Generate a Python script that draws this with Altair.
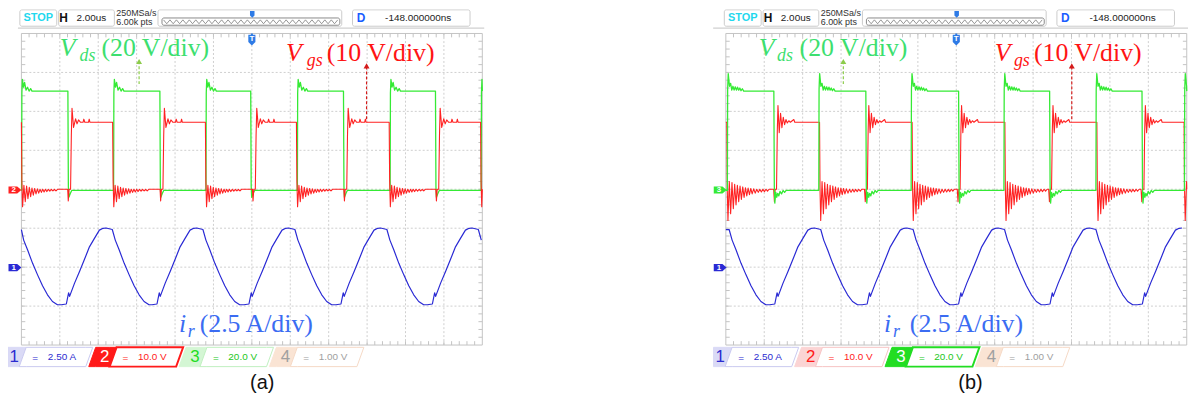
import altair as alt
import pandas as pd

# ---------------- scope settings ----------------
US_PER_DIV = 2.0                 # H 2.00us
VDS_PER_DIV = 20.0               # Vds (20 V/div)
VGS_PER_DIV = 10.0               # Vgs (10 V/div)
IR_PER_DIV = 2.5                 # ir (2.5 A/div)
VDS_GND, VGS_GND, IR_GND = -0.03, 0.0, -2.01   # ground markers (div)
VDS_HIGH, VGS_HIGH = 51.0, 17.2                # V

# ---------------- panel (a) switching instants (us) ----------------
a_vds_rise = [0.01, 4.80, 9.61, 14.37, 19.20, 23.94]
a_vds_fall = [2.42, 7.21, 11.94, 16.77, 21.56]
a_vgs_fall = [0.00, 4.75, 9.58, 14.32, 19.15, 23.91]
a_vgs_rise = [2.56, 7.37, 12.18, 16.94, 21.73]
a_ir_min = [-2.69, 2.08, 6.80, 11.59, 16.38, 21.14]
a_ir_start = 2.44
# ---------------- panel (b) switching instants (us) ----------------
b_vds_rise = [0.08, 4.84, 9.65, 14.48, 19.27, 23.88]
b_vds_fall = [2.50, 7.29, 12.12, 16.86, 21.67]
b_vgs_fall = [0.05, 4.88, 9.70, 14.53, 19.32, 23.86]
b_vgs_rise = [2.64, 7.37, 12.20, 16.96, 21.77]
b_ir_min = [-2.48, 2.29, 7.10, 11.86, 16.62, 21.43]
b_ir_start = 2.44

# ---------------- edge shapes (ns after edge, value) ----------------
a_vds_rise_tpl = [(0, 0), (15, 50), (40, 57), (100, 53), (155, 55.5), (230, 51.5),
                  (310, 53), (390, 51), (470, 52.3), (540, 51)]
a_vds_fall_tpl = [(0, 51), (25, 2), (50, -3.5), (130, -1.5), (200, 0)]
a_vgs_rise_tpl = [(-150, 0), (-120, -3.0), (-80, 0), (0, 0), (40, 14), (75, 20.8),
                  (155, 15.9), (260, 18.1), (335, 16.8), (415, 17.8), (520, 17.2),
                  (650, 17.2), (690, 18.0), (740, 17.2), (930, 17.2), (970, 18.0), (1010, 17.2)]
a_vgs_fall_tpl = [(0, 17.2), (25, 2), (60, -4.5), (130, 1.0), (200, -3.2), (270, 0.8),
                  (340, -2.4), (410, 0.5), (480, -1.9), (550, 0.3), (620, -1.5),
                  (690, 0.2), (760, -1.2), (830, 0.1), (900, -1.0), (970, 0),
                  (1040, -0.8), (1110, 0), (1180, -0.7), (1250, 0), (1320, -0.6),
                  (1400, 0), (1480, -0.5), (1560, 0), (1640, -0.4), (1720, 0),
                  (1800, -0.4), (1880, 0)]
b_vds_rise_tpl = [(0, 0), (15, 52), (45, 60), (110, 53.5), (170, 55), (230, 51.5),
                  (290, 53.5), (350, 51.5), (410, 53.2), (470, 51.5), (530, 53),
                  (590, 51.5), (650, 52.6), (710, 51.2), (780, 52.2), (850, 51)]
b_vds_fall_tpl = [(0, 51), (25, 2), (50, -6.5), (100, -1), (150, -3.5), (200, -1.5),
                  (260, -2.8), (320, -0.5), (400, -1.8), (480, 0), (560, -1), (640, 0)]
b_vgs_rise_tpl = [(-150, 0), (-110, -3.2), (-70, 0), (0, 0), (40, 15), (75, 21.5),
                  (140, 14.5), (210, 19.5), (280, 15.8), (350, 18.5), (420, 16.6),
                  (490, 17.9), (560, 17.0), (640, 17.6), (720, 17.2), (900, 17.9), (950, 17.2)]
b_vgs_fall_tpl = [(0, 17.2), (25, 0), (60, -8), (130, 2), (200, -6.3), (270, 1.7),
                  (340, -5), (410, 1.3), (480, -4), (550, 1), (620, -3.2), (690, 0.8),
                  (760, -2.6), (830, 0.6), (900, -2.1), (970, 0.4), (1040, -1.7),
                  (1110, 0.3), (1180, -1.4), (1250, 0.2), (1320, -1.2), (1400, 0.1),
                  (1480, -1), (1560, 0), (1640, -0.8), (1720, 0), (1800, -0.7),
                  (1880, 0), (1960, -0.6), (2040, 0), (2120, -0.5), (2200, 0)]

# resonant current over one period, starting at its minimum (ns, A)
ir_shape_ns = [0, 259, 377, 429, 688, 946, 1205, 1463, 1722, 1980, 2171, 2327,
               2652, 2807, 3014, 3273, 3531, 3790, 4048, 4307, 4565]
ir_shape_A = [-2.39, -2.34, -1.62, -1.85, -1.00, -0.26, 0.53, 1.33, 1.87, 2.40, 2.52,
              2.54, 2.44, 1.76, 1.12, 0.27, -0.47, -1.17, -1.75, -2.18, -2.39]

channels = ["1", "2", "3", "4"]
channel_values = ["2.50 A", "10.0 V", "20.0 V", "1.00 V"]

# ---------------- layout ----------------
W, H = 1188, 395
PXX, PXY = 38.67, 39.21
GA_LEFT, GB_LEFT, GRID_MID_Y = 13.5, 722.7, 181.15
X_DOMAIN = [-GA_LEFT / PXX, (W - GA_LEFT) / PXX]
Y_DOMAIN = [(GRID_MID_Y - H) / PXY, GRID_MID_Y / PXY]
B_OFF = (GB_LEFT - GA_LEFT) / PXX

GREEN, RED, BLUE = "#35ea35", "#ff2222", "#2a2ad4"
GRID_C, BORDER_C = "#cfcfcf", "#c4c4c4"


def build_trace(rises, falls, rise_tpl, fall_tpl, start, high, low):
    events = sorted([(t, 1) for t in rises] + [(t, 0) for t in falls])
    pts = [(0.0, start)]
    level = start
    for t, kind in events:
        for dt, v in (rise_tpl if kind else fall_tpl):
            pts.append((t + dt / 1000.0, v))
        level = high if kind else low
    pts.append((24.0, level))
    out, last = [], -1.0
    for t, v in pts:
        if 0 <= t <= 24 and t >= last:
            out.append((t, v))
            last = t
    return out


def build_ir(minima, start):
    pts = [(0.0, start)]
    for tm in minima:
        for dt, v in zip(ir_shape_ns, ir_shape_A):
            pts.append((tm + dt / 1000.0, v))
    return sorted([p for p in pts if 0 <= p[0] <= 24])


lines_lo, lines_hi, lines_ir, lines_misc = [], [], [], []


def add_line(store, sid, pts, scale, gnd, ox, color, w):
    for i, (t, v) in enumerate(pts):
        store.append(dict(sid=sid, i=i, x=ox + t / US_PER_DIV, y=v / scale + gnd,
                          color=color, w=w))


# panel (a): active channel 2 (red on top)
add_line(lines_lo, "a_vds", build_trace(a_vds_rise, a_vds_fall, a_vds_rise_tpl, a_vds_fall_tpl,
                                        0, VDS_HIGH, 0), VDS_PER_DIV, VDS_GND, 0, GREEN, 1.3)
add_line(lines_hi, "a_vgs", build_trace(a_vgs_rise, a_vgs_fall, a_vgs_rise_tpl, a_vgs_fall_tpl,
                                        VGS_HIGH, VGS_HIGH, 0), VGS_PER_DIV, VGS_GND, 0, RED, 1.1)
add_line(lines_ir, "a_ir", build_ir(a_ir_min, a_ir_start), IR_PER_DIV, IR_GND, 0, BLUE, 1.2)
# panel (b): active channel 3 (green on top)
add_line(lines_lo, "b_vgs", build_trace(b_vgs_rise, b_vgs_fall, b_vgs_rise_tpl, b_vgs_fall_tpl,
                                        VGS_HIGH, VGS_HIGH, 0), VGS_PER_DIV, VGS_GND, B_OFF, RED, 1.1)
add_line(lines_hi, "b_vds", build_trace(b_vds_rise, b_vds_fall, b_vds_rise_tpl, b_vds_fall_tpl,
                                        0, VDS_HIGH, 0), VDS_PER_DIV, VDS_GND, B_OFF, GREEN, 1.3)
add_line(lines_ir, "b_ir", build_ir(b_ir_min, b_ir_start), IR_PER_DIV, IR_GND, B_OFF, BLUE, 1.2)

# ---------------- decorations ----------------
rules, rects, areas, texts, pts_tag, pts_pent, pts_tri = [], [], [], [], [], [], []


def rule(x, x2, y, y2, color, w=1.0, dash="solid"):
    rules.append(dict(x=x, x2=x2, y=y, y2=y2, color=color, w=w, dash=dash))


def text(x, y, s, size, color, style):
    texts.append(dict(x=x, y=y, text=s, size=size, color=color, style=style))


CH_COL = ["#2b2bd0", "#ff1a1a", "#22dd22", "#a0a0a0"]
CH_TXT = ["#2b2bd0", "#ff1a1a", "#22c822", "#a0a0a0"]
CH_TINT = ["#dadaf6", "#fbd4d4", "#d4f6d4", "#fae4d4"]
CH_EDGE = ["#cacaf0", "#f6c4c4", "#bff0bf", "#f5d9c6"]

panels = [
    dict(ox=0.0, V1=0.996, s1=1.513, t1=2.082, V2=6.89, s2=7.43, t2=7.95,
         i=4.10, r=4.33, t3=4.64, ga=3.064, ra=8.986, cap=6.27, cap_text="(a)",
         active=1, bl0=1.753, tags=[("2", -0.02, RED), ("1", -2.011, BLUE)], tagx=-0.168,
         sep0=-0.09),
    dict(ox=B_OFF, V1=0.86, s1=1.334, t1=1.921, V2=7.00, s2=7.50, t2=8.02,
         i=4.118, r=4.35, t3=4.79, ga=3.059, ra=9.007, cap=6.37, cap_text="(b)",
         active=2, bl0=1.792, tags=[("3", -0.02, GREEN), ("1", -2.011, BLUE)], tagx=-0.147,
         sep0=-0.33),
]

for p in panels:
    ox = p["ox"]
    # graticule
    for k in range(1, 12):
        rule(ox + k, ox + k, -4, 4, GRID_C, 1, "dot")
    for k in range(-3, 4):
        rule(ox, ox + 12, k, k, GRID_C, 1, "dot")
    for (x0, x1, y0, y1) in [(0, 12, 4, 4), (0, 12, -4, -4), (0, 0, -4, 4), (12, 12, -4, 4)]:
        rule(ox + x0, ox + x1, y0, y1, BORDER_C, 1)
    tx, ty = 3.9 / PXX, 3.9 / PXY
    for m in range(1, 60):
        xv = ox + m * 0.2
        rule(xv, xv, 4 - ty, 4, BORDER_C, 1)
        rule(xv, xv, -4, -4 + ty, BORDER_C, 1)
    for m in range(1, 40):
        yv = -4 + m * 0.2
        rule(ox, ox + tx, yv, yv, BORDER_C, 1)
        rule(ox + 12 - tx, ox + 12, yv, yv, BORDER_C, 1)
    # top status bar
    rule(ox + p["sep0"], ox + 12.05, 4.135, 4.135, "#d0d0d0", 1.2)
    for (x0, x1) in [(-0.04, 0.92), (0.97, 2.42), (3.556, 8.34), (8.62, 11.68)]:
        rects.append(dict(x=ox + x0, x2=ox + x1, y=4.186, y2=4.607, fill="#ffffff", stroke="#cccccc"))
    rects.append(dict(x=ox + 3.66, x2=ox + 8.29, y=4.212, y2=4.398, fill="#ffffff", stroke="#8a8a8a"))
    zz, k, xz = [], 0, 3.70
    while xz <= 8.25:
        zz.append((xz, 4.35 if k % 2 == 0 else 4.25))
        xz += 0.084
        k += 1
    for i, (xv, yv) in enumerate(zz):
        lines_misc.append(dict(sid="zz" + p["cap_text"], i=i, x=ox + xv, y=yv, color="#7a7a7a", w=0.8))
    text(ox + 0.44, 4.40, "STOP", 11, "#1fd8ee", "sans_b_c")
    text(ox + 1.10, 4.40, "H", 12, "#111111", "sans_b_c")
    text(ox + 1.82, 4.40, "2.00us", 10, "#222222", "sans_c")
    text(ox + 2.47, 4.53, "250MSa/s", 9, "#333333", "sans_l")
    text(ox + 2.47, 4.30, "6.00k pts", 9, "#333333", "sans_l")
    text(ox + 8.84, 4.40, "D", 12, "#1a5cff", "sans_b_c")
    text(ox + 10.33, 4.40, "-148.000000ns", 10, "#222222", "sans_c")
    # trigger markers
    pts_pent.append(dict(x=ox + 6.01, y=4.49, size=49, color="#2e7be6"))
    pts_pent.append(dict(x=ox + 6.0, y=3.83, size=121, color="#2e7be6"))
    rule(ox + 6.0, ox + 6.0, 3.93, 4.0, "#2e7be6", 2)
    text(ox + 6.0, 3.86, "T", 8, "#ffffff", "sans_b_c")
    # channel tags on the left edge
    for (s, yv, col) in p["tags"]:
        pts_tag.append(dict(x=ox + p["tagx"], y=yv, size=169, color=col))
        text(ox + p["tagx"] - 0.03, yv, s, 8, "#ffffff", "sans_b_c")
    # annotations
    VDS_T, VGS_T, IR_T = "#3ddf6f", "#ff1414", "#3b6cf2"
    text(ox + p["V1"], 3.421, "V", 26, VDS_T, "serif_i")
    text(ox + p["s1"], 3.294, "ds", 18, VDS_T, "serif_i")
    text(ox + p["t1"], 3.421, "(20 V/div)", 26, VDS_T, "serif")
    text(ox + p["V2"], 3.294, "V", 26, VGS_T, "serif_i")
    text(ox + p["s2"], 3.166, "gs", 18, VGS_T, "serif_i")
    text(ox + p["t2"], 3.294, "(10 V/div)", 26, VGS_T, "serif")
    text(ox + p["i"], -3.669, "i", 26, IR_T, "serif_i")
    text(ox + p["r"], -3.796, "r", 18, IR_T, "serif_i")
    text(ox + p["t3"], -3.669, "(2.5 A/div)", 26, IR_T, "serif")
    rule(ox + p["ga"], ox + p["ga"], 2.70, 3.22, "#8ccc4a", 1.2, "dash")
    pts_tri.append(dict(x=ox + p["ga"], y=3.28, size=36, color="#8ccc4a"))
    rule(ox + p["ra"], ox + p["ra"], 1.80, 3.13, "#d41a1a", 1.2, "dash")
    pts_tri.append(dict(x=ox + p["ra"], y=3.17, size=36, color="#d41a1a"))
    # channel boxes
    bot, top, ty_mid = -4.554, -4.059, -4.306
    s_sl, ns, bw, pitch = 0.181, 0.543, 2.276, 2.353
    for c in range(4):
        bl = p["bl0"] + (c - 1) * pitch
        nb, br = bl + ns, bl + bw
        act = (c == p["active"])
        nfill = CH_COL[c] if act else CH_TINT[c]
        pid = p["cap_text"] + str(c)
        if c == 0:
            L = bl + 0.24
            poly = [(L, bot, top), (nb, bot, top), (nb + s_sl, top, top)]
        else:
            poly = [(bl, bot, bot), (bl + s_sl, bot, top), (nb, bot, top), (nb + s_sl, top, top)]
        for (xv, y0, y1) in poly:
            areas.append(dict(pid=pid + "n", x=ox + xv, y=y0, y2=y1, fill=nfill, stroke=nfill, w=1))
        tpoly = [(nb, bot, bot), (nb + s_sl, bot, top), (br, bot, top), (br + s_sl, top, top)]
        for (xv, y0, y1) in tpoly:
            areas.append(dict(pid=pid + "t", x=ox + xv, y=y0, y2=y1, fill="#ffffff",
                              stroke=CH_COL[c] if act else CH_EDGE[c], w=2 if act else 1))
        text(ox + bl + 0.414, ty_mid, channels[c], 17, "#ffffff" if act else CH_COL[c], "sans_c")
        text(ox + bl + 0.957, ty_mid - 0.02, "=", 10, CH_TXT[c], "sans_c")
        text(ox + bl + 1.655, ty_mid, channel_values[c], 10, CH_TXT[c], "sans_c")
    text(ox + p["cap"], -5.117, p["cap_text"], 20, "#111111", "cap")

# ---------------- chart ----------------
xs = alt.Scale(domain=X_DOMAIN, nice=False, zero=False)
ys = alt.Scale(domain=Y_DOMAIN, nice=False, zero=False)
XE = alt.X("x:Q", scale=xs, axis=None)
YE = alt.Y("y:Q", scale=ys, axis=None)

layers = []
rdf = pd.DataFrame(rules)
for dash, arr in [("dot", [2, 2]), ("solid", [1, 0]), ("dash", [3, 2])]:
    sub = rdf[rdf.dash == dash]
    mk = dict(clip=True)
    if dash != "solid":
        mk["strokeDash"] = arr
    layers.append(alt.Chart(sub).mark_rule(**mk).encode(
        x=XE, x2="x2:Q", y=YE, y2="y2:Q",
        color=alt.Color("color:N", scale=None),
        strokeWidth=alt.StrokeWidth("w:Q", scale=None)))

layers.append(alt.Chart(pd.DataFrame(rects)).mark_rect(cornerRadius=2, strokeWidth=1, clip=True).encode(
    x=XE, x2="x2:Q", y=YE, y2="y2:Q",
    fill=alt.Fill("fill:N", scale=None), stroke=alt.Stroke("stroke:N", scale=None)))


def line_layer(rows):
    return alt.Chart(pd.DataFrame(rows)).mark_line(clip=True, strokeJoin="round").encode(
        x=XE, y=YE, color=alt.Color("color:N", scale=None),
        strokeWidth=alt.StrokeWidth("w:Q", scale=None),
        detail="sid:N", order=alt.Order("i:Q"))


layers += [line_layer(lines_misc), line_layer(lines_lo), line_layer(lines_hi), line_layer(lines_ir)]

for rows, shape in [(pts_tag, "M-1,-0.55L0.35,-0.55L1,0L0.35,0.55L-1,0.55Z"),
                    (pts_pent, "M-0.65,-1L0.65,-1L0.65,0.35L0,1L-0.65,0.35Z"),
                    (pts_tri, "triangle-up")]:
    layers.append(alt.Chart(pd.DataFrame(rows)).mark_point(
        shape=shape, filled=True, opacity=1, strokeWidth=0, clip=True).encode(
        x=XE, y=YE, color=alt.Color("color:N", scale=None),
        size=alt.Size("size:Q", scale=None)))

layers.append(alt.Chart(pd.DataFrame(areas)).mark_area(opacity=1, clip=True).encode(
    x=XE, y=alt.Y("y:Q", scale=ys, axis=None, stack=None), y2="y2:Q",
    fill=alt.Fill("fill:N", scale=None), stroke=alt.Stroke("stroke:N", scale=None),
    strokeWidth=alt.StrokeWidth("w:Q", scale=None), detail="pid:N"))

STYLES = {
    "sans_b_c": dict(font="Liberation Sans", fontWeight="bold", align="center", baseline="middle"),
    "sans_c": dict(font="Liberation Sans", align="center", baseline="middle"),
    "sans_l": dict(font="Liberation Sans", align="left", baseline="middle"),
    "serif_i": dict(font="Liberation Serif", fontStyle="italic", align="left", baseline="alphabetic"),
    "serif": dict(font="Liberation Serif", align="left", baseline="alphabetic"),
    "cap": dict(font="Liberation Sans", align="center", baseline="alphabetic"),
}
tdf = pd.DataFrame(texts)
for st, kw in STYLES.items():
    sub = tdf[tdf["style"] == st]
    layers.append(alt.Chart(sub).mark_text(clip=True, **kw).encode(
        x=XE, y=YE, text="text:N", size=alt.Size("size:Q", scale=None),
        color=alt.Color("color:N", scale=None)))

chart = alt.layer(*layers).properties(
    width=W, height=H, padding=0, autosize=alt.AutoSizeParams(type="none"),
    background="#ffffff").configure_view(strokeOpacity=0)

chart.save("out.html", embed_options={"renderer": "svg", "actions": False})
